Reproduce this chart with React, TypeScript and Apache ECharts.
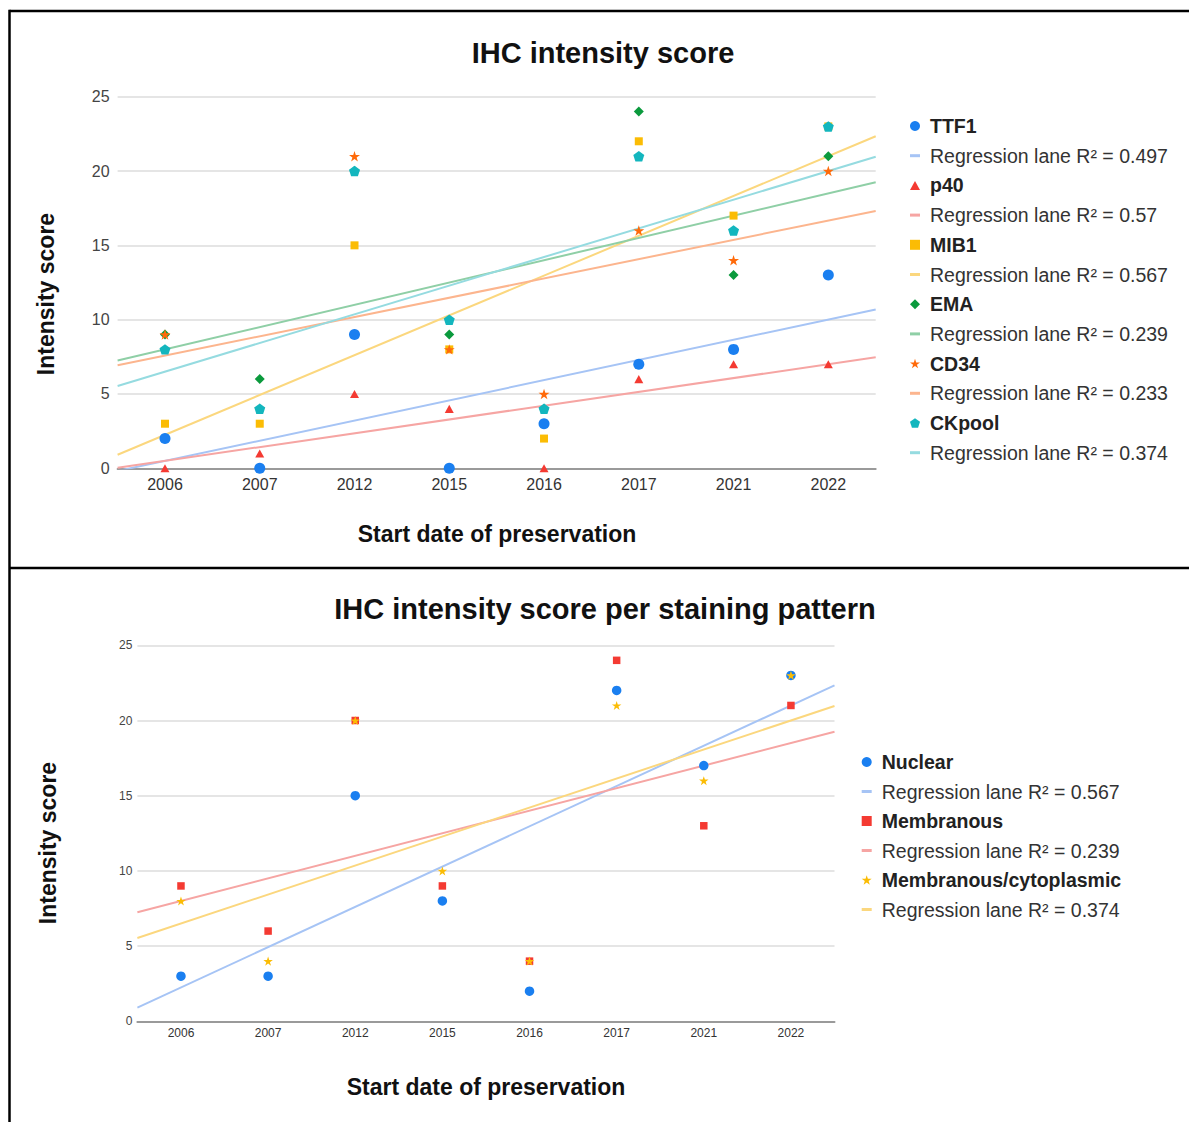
import React, { useEffect, useRef } from "react";
import * as echarts from "echarts";

const years = ["2006", "2007", "2012", "2015", "2016", "2017", "2021", "2022"];

// Top chart
const ttf1 = [2, 0, 9, 0, 3, 7, 8, 13];
const p40 = [0, 1, 5, 4, 0, 6, 7, 7];
const mib1 = [3, 3, 15, 8, 2, 22, 17, 23];
const ema = [9, 6, 20, 9, 4, 24, 13, 21];
const cd34 = [9, 4, 21, 8, 5, 16, 14, 20];
const ckpool = [8, 4, 20, 10, 4, 21, 16, 23];
const topNames = ["TTF1", "p40", "MIB1", "EMA", "CD34", "CKpool"];
const topR2 = ["0.497", "0.57", "0.567", "0.239", "0.233", "0.374"];

// Bottom chart
const nuclear = [3, 3, 15, 8, 2, 22, 17, 23];
const membranous = [9, 6, 20, 9, 4, 24, 13, 21];
const membCyto = [8, 4, 20, 10, 4, 21, 16, 23];
const bottomNames = ["Nuclear", "Membranous", "Membranous/cytoplasmic"];
const bottomR2 = ["0.567", "0.239", "0.374"];

const FONT = 'Arial, "Liberation Sans", sans-serif';

const SYM = {
  circle: "circle",
  triangle: "path://M5,0L10,9L0,9Z",
  square: "path://M0,0H10V10H0Z",
  diamond: "path://M5,0L10,5L5,10L0,5Z",
  star: "path://M50,0L61.2,34.5L97.6,34.5L68.2,55.9L79.4,90.5L50,69.1L20.6,90.5L31.8,55.9L2.4,34.5L38.8,34.5Z",
  pentagon: "path://M50,0L97.6,34.5L79.4,90.5L20.6,90.5L2.4,34.5Z",
  dash: "path://M0,0H10V3H0Z",
};

function trend(vals: number[]) {
  const n = vals.length;
  const mx = (n - 1) / 2;
  const my = vals.reduce((a, b) => a + b, 0) / n;
  let sxy = 0;
  let sxx = 0;
  vals.forEach((v, i) => {
    sxy += (i - mx) * (v - my);
    sxx += (i - mx) * (i - mx);
  });
  const b = sxy / sxx;
  const a = my - b * mx;
  return [
    [-0.5, a - 0.5 * b],
    [n - 0.5, a + (n - 0.5) * b],
  ];
}

export default function App() {
  const ref = useRef<HTMLDivElement>(null);

  useEffect(() => {
    if (!ref.current) return;
    const chart = echarts.init(ref.current, undefined, { renderer: "svg" });

    const topSets = [
      { name: topNames[0], data: ttf1, color: "#1a7ff0", line: "#a6c4f5", sym: SYM.circle, size: 11 },
      { name: topNames[1], data: p40, color: "#f43a32", line: "#f6a5a3", sym: SYM.triangle, size: 9 },
      { name: topNames[2], data: mib1, color: "#fbbc04", line: "#fbd77e", sym: SYM.square, size: 8 },
      { name: topNames[3], data: ema, color: "#0b9a3d", line: "#8fcfa6", sym: SYM.diamond, size: 10 },
      { name: topNames[4], data: cd34, color: "#ff6a0a", line: "#fcb58e", sym: SYM.star, size: 11 },
      { name: topNames[5], data: ckpool, color: "#13b6be", line: "#95dbe0", sym: SYM.pentagon, size: 11 },
    ];
    const bottomSets = [
      { name: bottomNames[0], data: nuclear, color: "#1a7ff0", line: "#a6c4f5", sym: SYM.circle, size: 9.5 },
      { name: bottomNames[1], data: membranous, color: "#f43a32", line: "#f6a5a3", sym: SYM.square, size: 7.5 },
      { name: bottomNames[2], data: membCyto, color: "#fbbc04", line: "#fbd77e", sym: SYM.star, size: 9.5 },
    ];

    const series: any[] = [];
    const topLegend: any[] = [];
    const bottomLegend: any[] = [];

    const addSets = (sets: any[], r2: string[], catAxis: number, valAxis: number, yAxis: number, legend: any[]) => {
      sets.forEach((s, i) => {
        const rName = `Regression lane R² = ${r2[i]}`;
        series.push({
          type: "line",
          name: rName,
          xAxisIndex: valAxis,
          yAxisIndex: yAxis,
          data: trend(s.data),
          showSymbol: false,
          symbol: "none",
          silent: true,
          z: 1,
          lineStyle: { color: s.line, width: 2 },
          itemStyle: { color: s.line },
        });
        series.push({
          type: "scatter",
          name: s.name,
          xAxisIndex: catAxis,
          yAxisIndex: yAxis,
          data: s.data,
          symbol: s.sym,
          symbolSize: s.size,
          symbolKeepAspect: true,
          z: 2 + i,
          itemStyle: { color: s.color, opacity: 1 },
        });
        legend.push({ name: s.name, icon: s.sym, itemStyle: { color: s.color, borderWidth: 0 } });
        legend.push({ name: rName, icon: SYM.dash, itemStyle: { color: s.line, borderWidth: 0 } });
      });
    };
    addSets(topSets, topR2, 0, 1, 0, topLegend);
    addSets(bottomSets, bottomR2, 2, 3, 1, bottomLegend);

    const legendBase = (fs: number, lh: number) => ({
      orient: "vertical",
      padding: 0,
      itemWidth: 10,
      itemHeight: 10,
      selectedMode: false,
      symbolKeepAspect: true,
      itemStyle: { borderWidth: 0 },
      formatter: (name: string) => (name.startsWith("Regression") ? `{r|${name}}` : `{b|${name}}`),
      textStyle: {
        fontSize: fs,
        fontFamily: FONT,
        rich: {
          b: { fontSize: fs, fontWeight: "bold", color: "#222", fontFamily: FONT, lineHeight: lh, padding: [0, 0, 0, 5] },
          r: { fontSize: fs, color: "#333", fontFamily: FONT, lineHeight: lh, padding: [0, 0, 0, 5] },
        },
      },
    });

    const catAxis = (grid: number, fs: number, margin: number) => ({
      type: "category",
      gridIndex: grid,
      data: years,
      boundaryGap: true,
      axisTick: { show: false },
      axisLine: { show: true, lineStyle: { color: "#9a9a9a", width: 2 } },
      axisLabel: { fontSize: fs, color: "#333", margin, fontFamily: FONT },
      splitLine: { show: false },
    });
    const valX = (grid: number) => ({ type: "value", gridIndex: grid, min: -0.5, max: 7.5, show: false });
    const yAx = (grid: number, fs: number, margin: number) => ({
      type: "value",
      gridIndex: grid,
      min: 0,
      max: 25,
      interval: 5,
      axisLine: { show: false },
      axisTick: { show: false },
      axisLabel: { fontSize: fs, color: "#444", margin, fontFamily: FONT },
      splitLine: { show: true, lineStyle: { color: "#dcdcdc", width: 1.5 } },
    });

    const txt = (text: string, x: number, y: number, size: number, rot = 0) => ({
      type: "text",
      x,
      y,
      rotation: rot,
      style: {
        text,
        font: `bold ${size}px ${FONT}`,
        fill: "#111",
        textAlign: "center",
        textVerticalAlign: "middle",
      },
    });

    const border = { stroke: "#000", lineWidth: 2.5 };

    chart.setOption({
      animation: false,
      backgroundColor: "#fff",
      grid: [
        { left: 117.6, top: 96.7, width: 758.1, height: 371.6 },
        { left: 137.4, top: 645.3, width: 697.1, height: 376 },
      ],
      xAxis: [catAxis(0, 16, 8), valX(0), catAxis(1, 12, 6), valX(1)],
      yAxis: [yAx(0, 16, 8), yAx(1, 12, 5)],
      legend: [
        { ...legendBase(19.5, 22), left: 910, top: 116, itemGap: 9.7, data: topLegend },
        { ...legendBase(19.5, 22), left: 861.7, top: 752, itemGap: 9.5, data: bottomLegend },
      ],
      series,
      graphic: [
        { type: "line", shape: { x1: 9.5, y1: 11, x2: 1189, y2: 11 }, style: border },
        { type: "line", shape: { x1: 9.5, y1: 9.8, x2: 9.5, y2: 1122 }, style: border },
        { type: "line", shape: { x1: 9.5, y1: 568, x2: 1189, y2: 568 }, style: border },
        txt("IHC intensity score", 603, 53, 29),
        txt("IHC intensity score per staining pattern", 605, 609, 29),
        txt("Start date of preservation", 497, 534, 23),
        txt("Start date of preservation", 486, 1087, 23),
        txt("Intensity score", 46, 294, 23, Math.PI / 2),
        txt("Intensity score", 48, 843, 23, Math.PI / 2),
      ],
    });

    return () => chart.dispose();
  }, []);

  return (
    <div
      ref={ref}
      style={{ position: "absolute", left: 0, top: 0, width: 1189, height: 1122, background: "#fff" }}
    />
  );
}
